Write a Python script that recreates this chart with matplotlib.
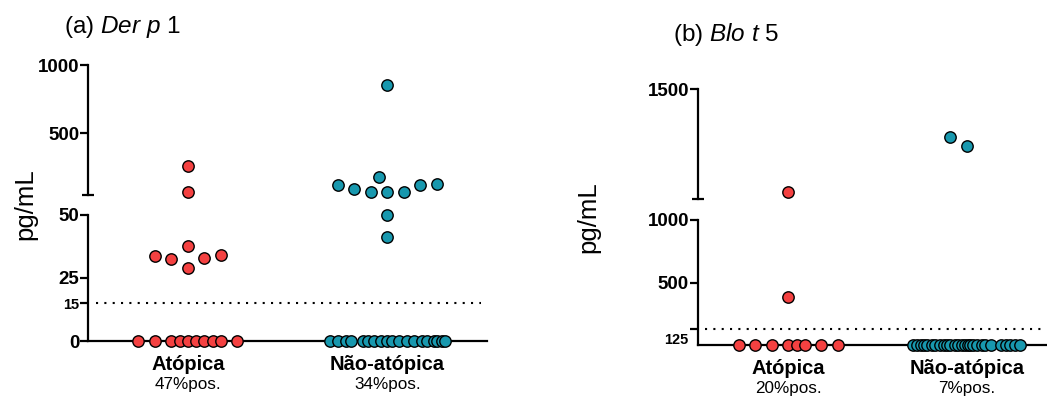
import numpy as np
import matplotlib
matplotlib.use("Agg")
import matplotlib.pyplot as plt
from matplotlib.transforms import offset_copy

plt.rcParams["font.family"] = ["Liberation Sans", "DejaVu Sans"]
plt.rcParams["mathtext.fontset"] = "custom"
plt.rcParams["mathtext.rm"] = "Liberation Sans"
plt.rcParams["mathtext.it"] = "Liberation Sans:italic"

# DATA
GROUPS = ["Atópica", "Não-atópica"]

# (a) Der p 1, pg/mL
DERP_ATOP = [261, 65, 37.7, 33.6, 32.4, 28.7, 32.7, 34.0] + [0] * 10
DERP_NONATOP = [854, 178, 119, 92, 65, 65, 72, 119, 127, 49.8, 41.2] + [0] * 19
DERP_POS = ["47%pos.", "34%pos."]
DERP_CUTOFF = 15

# (b) Blo t 5, pg/mL
BLOT_ATOP = [1033, 386] + [0] * 8
BLOT_NONATOP = [1283, 1242] + [0] * 27
BLOT_POS = ["20%pos.", "7%pos."]
BLOT_CUTOFF = 125

# swarm slots (horizontal offsets in marker steps) for each point above
DERP_ATOP_SLOT = [0, 0, 0, -2, -1, 0, 1, 2,
                  -3, -2, -1, -0.5, 0, 0.5, 1, 1.5, 2, 3]
DERP_NONATOP_SLOT = [0, -0.5, -3, -2, -1, 0, 1, 2, 3, 0, 0,
                     -3.5, -3, -2.5, -2.2, -1.5, -1.2, -0.8, -0.4, 0, 0.3,
                     0.7, 1.2, 1.6, 2.1, 2.4, 2.8, 3, 3.3, 3.5]
BLOT_ATOP_SLOT = [0, 0, -3, -2, -1, 0, 0.5, 1, 2, 3]
BLOT_NONATOP_SLOT = [-1, 0,
                     -3.25, -3.0, -2.8, -2.6, -2.4, -2.1, -1.9, -1.6, -1.4,
                     -1.2, -1.0, -0.7, -0.5, -0.3, -0.1, 0.1, 0.2, 0.4,
                     0.6, 0.9, 1.1, 1.5, 2.1, 2.4, 2.6, 2.9, 3.2]

RED = "#F44141"
TEAL = "#1898AE"
W, H = 1047, 397
STEP_PX = 16.5
MS = 8.2


def fx(px):
    return px / W


def fy(py):
    return 1 - py / H


def make_axes(fig, left, right, y0, y1):
    # y0 = pixel row of the bottom, y1 = pixel row of the top
    return fig.add_axes([fx(left), fy(y0), fx(right - left), (y0 - y1) / H])


def style(ax, xlim, ylim, yticks, bottom):
    ax.set_xlim(xlim)
    ax.set_ylim(ylim)
    ax.patch.set_alpha(0)
    for s in ["top", "right"]:
        ax.spines[s].set_visible(False)
    ax.spines["left"].set_linewidth(1.6)
    ax.spines["bottom"].set_linewidth(1.6)
    ax.spines["bottom"].set_visible(bottom)
    ax.set_yticks(yticks)
    ax.set_yticklabels([str(t) for t in yticks], fontweight="bold", fontsize=13.5)
    ax.tick_params(axis="y", width=1.6, length=5.5, pad=1)
    if bottom:
        ax.set_xticks([0, 1])
        ax.set_xticklabels(GROUPS, fontweight="bold", fontsize=14.5)
        ax.tick_params(axis="x", width=1.2, length=3, pad=7)
    else:
        ax.set_xticks([])
        # break cap at the bottom of the upper segment
        ax.set_yticks([ylim[0]], minor=True)
        ax.tick_params(axis="y", which="minor", direction="inout",
                       length=9, width=1.6)


def swarm(ax, pos, values, slots, color, px_per_unit):
    x = pos + np.array(slots) * STEP_PX / px_per_unit
    ax.plot(x, values, "o", ms=MS, mfc=color, mec="black", mew=1.0,
            linestyle="none", clip_on=False, zorder=5)


def draw_panel(fig, left, right, rows, lims, ticks, xlim, groups, cutoff,
               pos_labels, title, title_xy, ylabel_xy):
    (y_bot0, y_bot1, y_top0, y_top1) = rows
    ax_b = make_axes(fig, left, right, y_bot0, y_bot1)
    ax_t = make_axes(fig, left, right, y_top0, y_top1)
    style(ax_b, xlim, lims[0], ticks[0], True)
    style(ax_t, xlim, lims[1], ticks[1], False)
    px_per_unit = (right - left) / (xlim[1] - xlim[0])

    for i, (vals, slots, color) in enumerate(groups):
        vals = np.array(vals, float)
        slots = np.array(slots, float)
        low = vals <= lims[0][1]
        swarm(ax_b, i, vals[low], slots[low], color, px_per_unit)
        swarm(ax_t, i, vals[~low], slots[~low], color, px_per_unit)

    ax_b.axhline(cutoff, xmin=0.02, xmax=0.985, color="black",
                 linestyle=(0, (1, 3)), lw=1.5, zorder=1)

    tr = offset_copy(ax_b.get_xaxis_transform(), fig=fig, x=0, y=-43 * 0.72,
                     units="points")
    for i, lab in enumerate(pos_labels):
        ax_b.text(i, 0, lab, transform=tr, ha="center", va="center",
                  fontsize=12.3)

    fig.text(fx(title_xy[0]), fy(title_xy[1]), title, fontsize=17.5,
             ha="left", va="center")
    fig.text(fx(ylabel_xy[0]), fy(ylabel_xy[1]), "pg/mL", fontsize=18.5,
             rotation=90, ha="center", va="center")
    return ax_b, ax_t


fig = plt.figure(figsize=(W / 100, H / 100), dpi=100)

ax_b, ax_t = draw_panel(
    fig, 88.3, 487, (341, 214.5, 194.5, 65),
    ((0, 50), (50, 1000)), ([0, 15, 25, 50], [500, 1000]), (-0.5, 1.5),
    [(DERP_ATOP, DERP_ATOP_SLOT, RED), (DERP_NONATOP, DERP_NONATOP_SLOT, TEAL)],
    DERP_CUTOFF, DERP_POS, r"(a) $\it{Der\ p}$ 1", (64, 27), (25, 204))
for lab in ax_b.get_yticklabels():
    if lab.get_text() == "15":
        lab.set_fontsize(10.5)

ax_b2, ax_t2 = draw_panel(
    fig, 698, 1047, (345, 220, 199, 89),
    ((0, 1000), (1000, 1500)), ([125, 500, 1000], [1500]), (-0.506, 1.45),
    [(BLOT_ATOP, BLOT_ATOP_SLOT, RED), (BLOT_NONATOP, BLOT_NONATOP_SLOT, TEAL)],
    BLOT_CUTOFF, BLOT_POS, r"(b) $\it{Blo\ t}$ 5", (673, 35), (588, 217))
# the 125 label sits a little below its tick
ax_b2.set_yticklabels(["", "500", "1000"], fontweight="bold", fontsize=13.5)
ax_b2.annotate("125", xy=(0, BLOT_CUTOFF), xycoords=("axes fraction", "data"),
               xytext=(-7, -8), textcoords="offset points", ha="right",
               va="center", fontsize=10.5, fontweight="bold")

fig.savefig("out.png", dpi=100)
